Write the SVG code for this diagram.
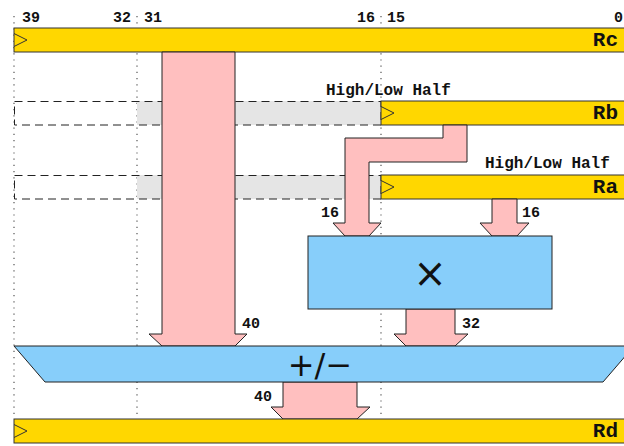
<svg xmlns="http://www.w3.org/2000/svg" width="624" height="446" viewBox="0 0 624 446">
<style>
.dot{stroke:#555;stroke-width:1.2;stroke-dasharray:1.2,5;fill:none}
.dash{stroke:#222;stroke-width:1;stroke-dasharray:8,5;fill:none}
.gray{fill:#e5e5e5}
.reg{fill:#ffd700;stroke:#333;stroke-width:1}
.clk{fill:none;stroke:#333;stroke-width:1}
.arr{fill:#ffbfbf;stroke:#222;stroke-width:1;stroke-linejoin:miter}
.blk{fill:#87cefa;stroke:#222;stroke-width:1}
.lbl{font-family:"Liberation Mono",monospace;font-weight:bold;font-size:15px;fill:#111}
.hl{font-size:16px}
.rn{font-family:"Liberation Mono",monospace;font-weight:bold;font-size:21px;fill:#111;text-anchor:end}
.op{font-family:"DejaVu Sans",sans-serif;fill:#111;text-anchor:middle}
</style>
<rect width="624" height="446" fill="#fff"/>
<g id="grid">
<line class="dot" x1="14" y1="16" x2="14" y2="419"/>
<line class="dot" x1="137" y1="16" x2="137" y2="419"/>
<line class="dot" x1="381" y1="16" x2="381" y2="419"/>
</g>
<g id="bitlabels">
<text class="lbl" x="22" y="22">39</text>
<text class="lbl" x="113" y="22">32</text>
<text class="lbl" x="144" y="22">31</text>
<text class="lbl" x="357" y="22">16</text>
<text class="lbl" x="387" y="22">15</text>
<text class="lbl" x="614" y="22">0</text>
</g>
<g id="Rc">
<rect class="reg" x="14" y="28" width="620" height="24"/>
<polyline class="clk" points="14,33.5 27,40 14,46.5"/>
<text class="rn" x="618" y="46">Rc</text>
</g>
<g id="Rb">
<rect class="gray" x="137" y="101" width="244" height="24"/>
<rect class="dash" x="14.5" y="101.5" width="366.5" height="23.5"/>
<rect class="reg" x="381" y="101" width="253" height="24"/>
<polyline class="clk" points="381,106.5 394,113 381,119.5"/>
<text class="rn" x="618" y="119">Rb</text>
<text class="lbl hl" x="326" y="95">High/Low Half</text>
</g>
<g id="Ra">
<rect class="gray" x="137" y="175" width="244" height="24"/>
<rect class="dash" x="14.5" y="175.5" width="366.5" height="23.5"/>
<rect class="reg" x="381" y="175" width="253" height="24"/>
<polyline class="clk" points="381,180.5 394,187 381,193.5"/>
<text class="rn" x="618" y="193">Ra</text>
<text class="lbl hl" x="485" y="168">High/Low Half</text>
</g>
<g id="connectors">
<polygon class="arr" points="162,52 235,52 235,334 247,334 235,346 162,346 149,334 162,334"/>
<polygon class="arr" points="443,125 467,125 467,162 369,162 369,223 381,223 369,236 345,236 333,223 345,223 345,138 443,138"/>
<polygon class="arr" points="492,199 517,199 517,223 529,223 517,236 492,236 480,223 492,223"/>
<polygon class="arr" points="406,309 455,309 455,334 468,334 455,346 406,346 394,334 406,334"/>
<polygon class="arr" points="283,382 357,382 357,407 370,407 357,419 283,419 271,407 283,407"/>
<text class="lbl" x="321" y="217">16</text>
<text class="lbl" x="522" y="217">16</text>
<text class="lbl" x="242" y="328">40</text>
<text class="lbl" x="462" y="328">32</text>
<text class="lbl" x="254" y="401">40</text>
</g>
<g id="mult">
<rect class="blk" x="308" y="236" width="244" height="73"/>
<text class="op" x="430" y="287" font-size="40">×</text>
</g>
<g id="adder">
<polygon class="blk" points="14,346 634,346 603,382 45,382"/>
<text class="op" x="320" y="376" font-size="32">+/−</text>
</g>
<g id="Rd">
<rect class="reg" x="14" y="419" width="620" height="24"/>
<polyline class="clk" points="14,424.5 27,431 14,437.5"/>
<text class="rn" x="618" y="437">Rd</text>
</g>
</svg>
